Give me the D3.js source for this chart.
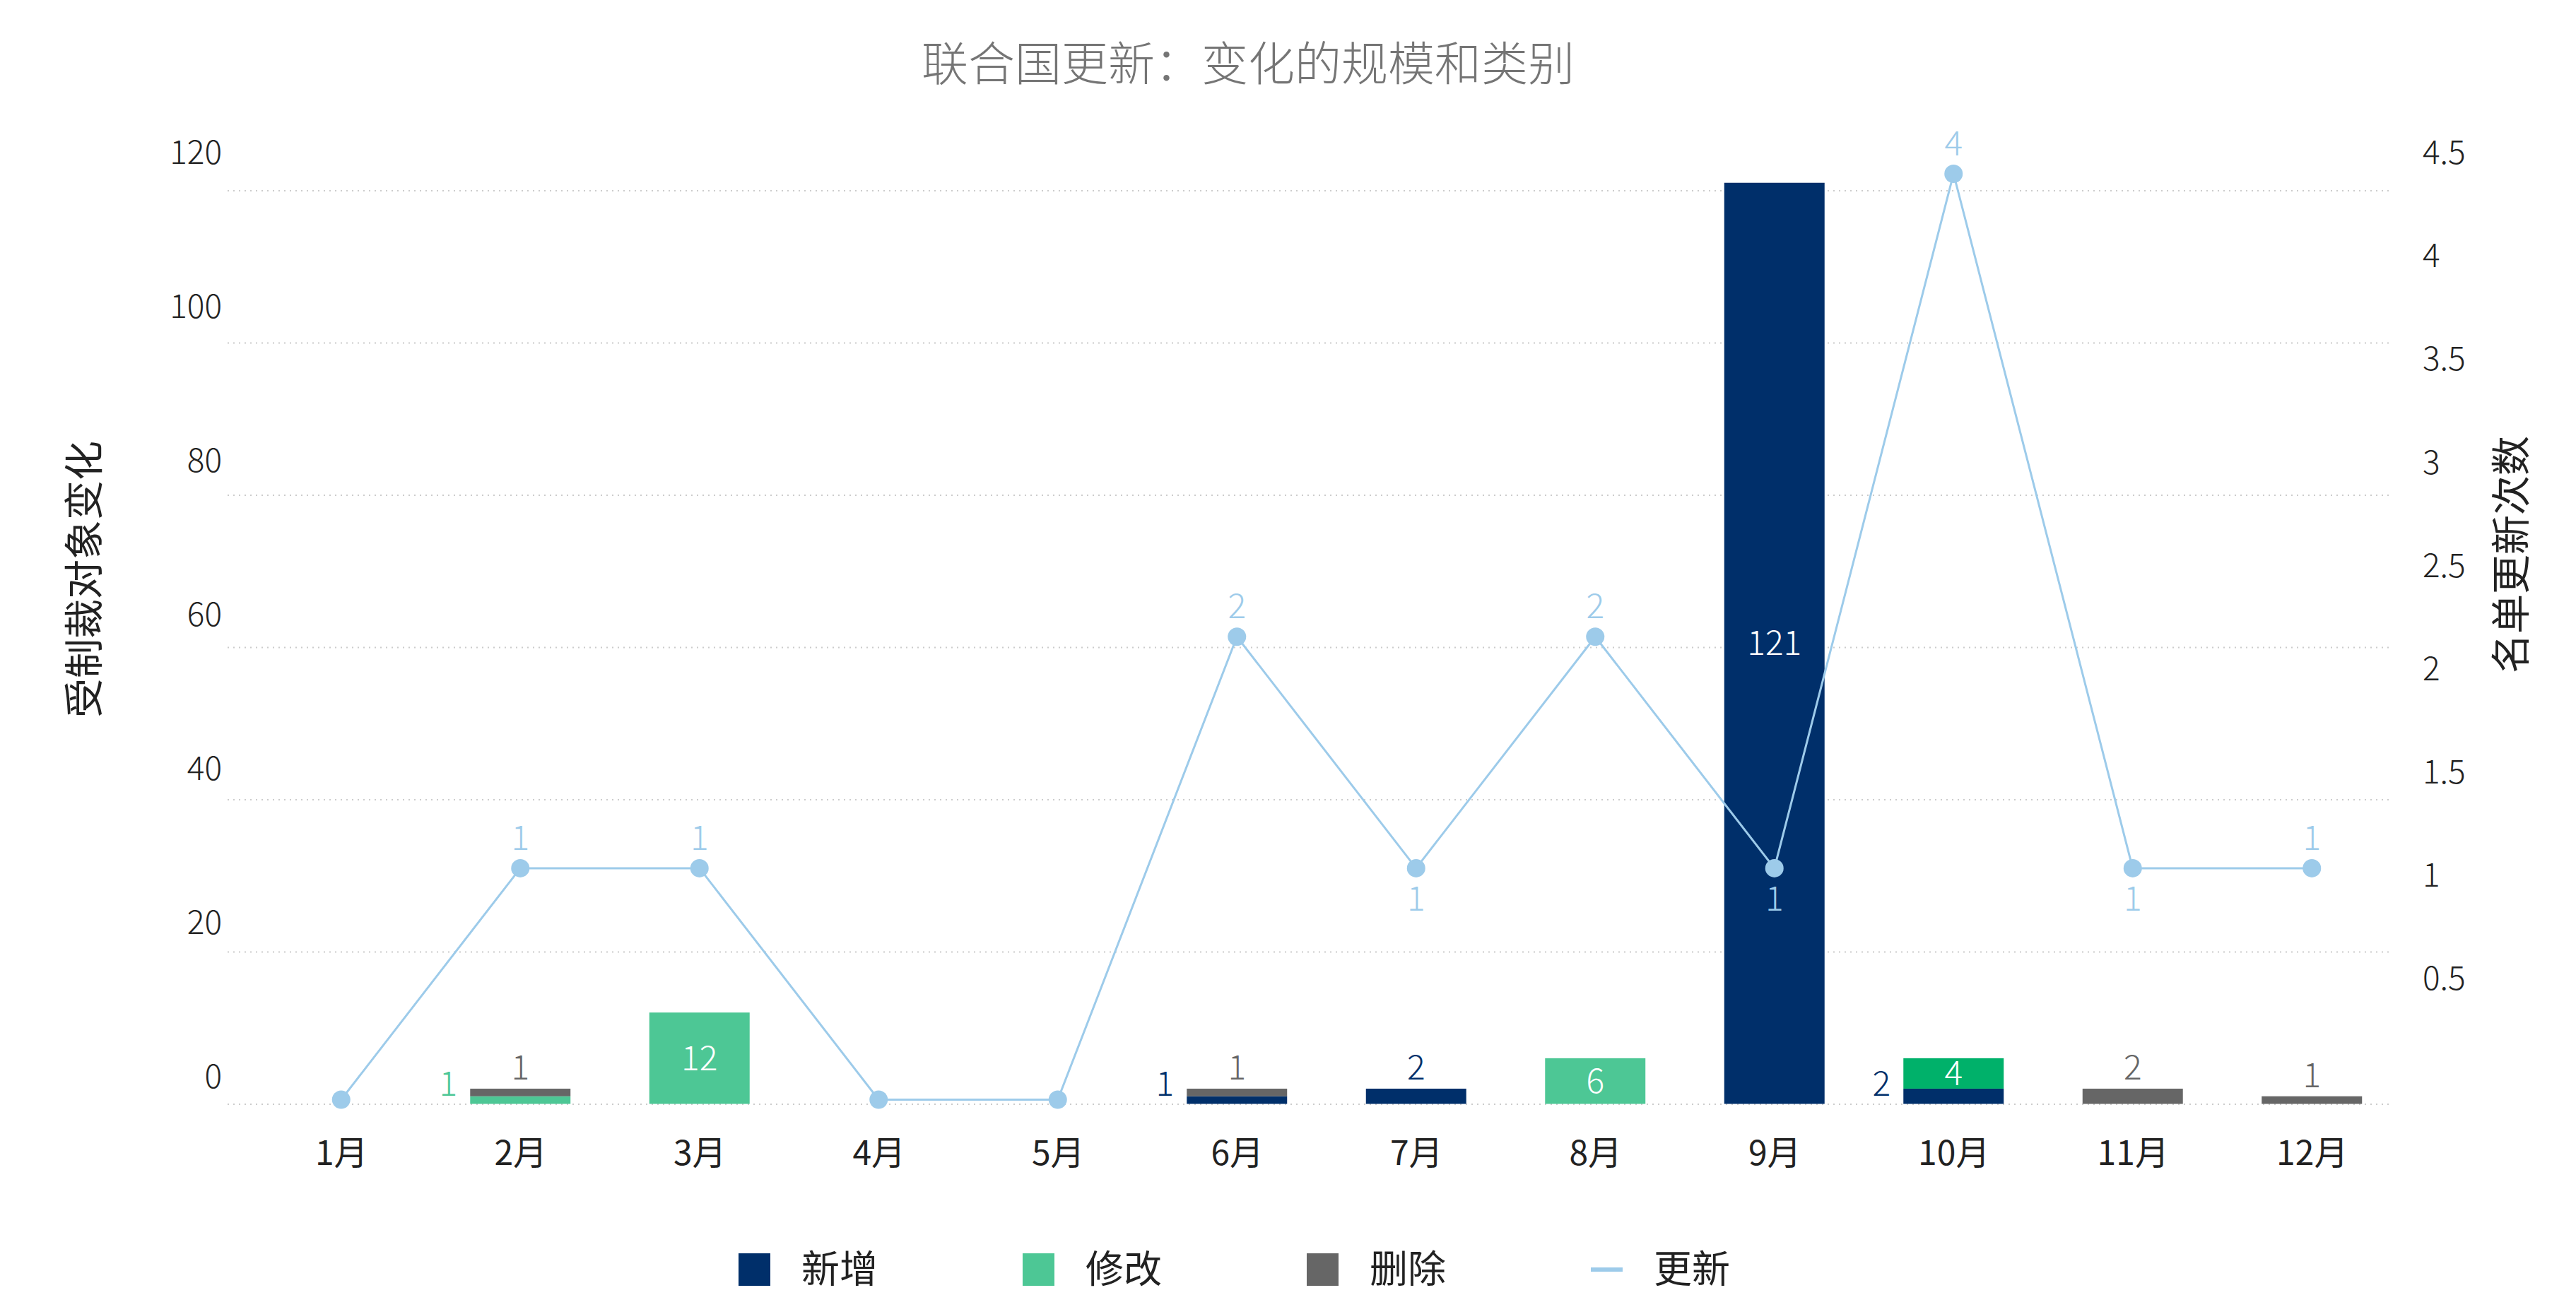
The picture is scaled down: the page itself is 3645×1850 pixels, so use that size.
<!DOCTYPE html>
<html>
<head>
<meta charset="utf-8">
<script src="https://cdn.jsdelivr.net/npm/d3@7"></script>
<style>
  body { margin: 0; background: #fff; }
  svg text { font-family: "Noto Sans CJK SC", "Noto Sans", sans-serif; }
</style>
</head>
<body>
<svg id="chart" width="3645" height="1850"></svg>
<script>
// Monthly UN list changes (bars, left axis) and number of list updates (line, right axis)
var months = ['1月', '2月', '3月', '4月', '5月', '6月', '7月', '8月', '9月', '10月', '11月', '12月'];
var added = [0, 0, 0, 0, 0, 1, 2, 0, 121, 2, 0, 0];
var modified = [0, 1, 12, 0, 0, 0, 0, 6, 0, 4, 0, 0];
var removed = [0, 1, 0, 0, 0, 1, 0, 0, 0, 0, 2, 1];
var updates = [0, 1, 1, 0, 0, 2, 1, 2, 1, 4, 1, 1];
var leftTicks = [0, 20, 40, 60, 80, 100, 120];
var rightTicks = [0.5, 1, 1.5, 2, 2.5, 3, 3.5, 4, 4.5];

var title = '联合国更新：变化的规模和类别';
var leftTitle = '受制裁对象变化';
var rightTitle = '名单更新次数';

var series = [
  {key: 'added', name: '新增', color: '#002f6a'},
  {key: 'modified', name: '修改', color: '#4dc795'},
  {key: 'removed', name: '删除', color: '#666666'}
];
var lineName = '更新';
var lineColor = '#9dcbea';
// the 10月 修改 segment is drawn in a stronger green in the original
var highlightMonth = '10月';
var highlightColor = '#00b16a';

var svg = d3.select('#chart');

var plotLeft = 322, plotRight = 3380;

var x = d3.scalePoint().domain(months).range([356, 3398]).padding(0.5);
var barW = x.step() * 0.56;

var yL = d3.scaleLinear().domain([0, 120]).range([1562.5, 269.5]);
var yR = d3.scaleLinear().domain([0, 4]).range([1556.5, 246]);
// tick labels sit a little above their gridlines
var yLLabel = d3.scaleLinear().domain([0, 120]).range([1525, 217]);
var yRLabel = d3.scaleLinear().domain([0, 4.5]).range([1532, 217]);

/////////////////////////
// Gridlines
var grid = svg.append('g')
  .attr('transform', 'translate(' + plotLeft + ',0)')
  .call(d3.axisLeft(yL).tickValues(leftTicks).tickSize(-(plotRight - plotLeft)).tickFormat(''));
grid.select('.domain').remove();
grid.selectAll('line')
  .attr('stroke', '#cccccc')
  .attr('stroke-width', 2)
  .attr('stroke-dasharray', '2,6');

/////////////////////////
// Stacked bars
var rows = months.map(function(m, i) {
  return {month: m, added: added[i], modified: modified[i], removed: removed[i]};
});
var stacked = d3.stack().keys(series.map(function(s) { return s.key; }))(rows);

var segColor = function(s, d) {
  if (s.key == 'modified' && d.data.month == highlightMonth) { return highlightColor; }
  return s.color;
};

stacked.forEach(function(layer, li) {
  var s = series[li];
  svg.append('g').selectAll('rect')
    .data(layer.filter(function(d) { return d[1] - d[0] > 0; }))
    .enter()
      .append('rect')
        .attr('x', function(d) { return x(d.data.month) - barW / 2; })
        .attr('y', function(d) { return yL(d[1]); })
        .attr('width', barW)
        .attr('height', function(d) { return yL(d[0]) - yL(d[1]); })
        .attr('fill', function(d) { return segColor(s, d); });
});

/////////////////////////
// Update line
var line = d3.line()
  .x(function(d, i) { return x(months[i]); })
  .y(function(d) { return yR(d); });

svg.append('path')
  .datum(updates)
  .attr('d', line)
  .attr('fill', 'none')
  .attr('stroke', lineColor)
  .attr('stroke-width', 3);

svg.append('g').selectAll('circle')
  .data(updates)
  .enter()
    .append('circle')
      .attr('cx', function(d, i) { return x(months[i]); })
      .attr('cy', function(d) { return yR(d); })
      .attr('r', 13)
      .attr('fill', lineColor);

/////////////////////////
// Bar labels: inside when the segment is tall enough, else above the stack
// (top segment) or to the left of the bar (lower segment).
stacked.forEach(function(layer, li) {
  var s = series[li];
  layer.forEach(function(d, i) {
    var v = d[1] - d[0];
    if (v <= 0) { return; }
    var h = yL(d[0]) - yL(d[1]);
    var cx = x(d.data.month);
    var total = added[i] + modified[i] + removed[i];
    var t = svg.append('text')
      .text(v)
      .attr('font-size', 48)
      .attr('font-weight', 300);
    if (h >= 36) {
      t.attr('x', cx).attr('y', (yL(d[0]) + yL(d[1])) / 2)
        .attr('dy', '0.35em').attr('text-anchor', 'middle').attr('fill', '#fff');
    } else if (d[1] == total) {
      t.attr('x', cx).attr('y', yL(d[1]) - 30)
        .attr('dy', '0.35em').attr('text-anchor', 'middle').attr('fill', s.color);
    } else {
      t.attr('x', cx - barW / 2 - 18).attr('y', yL(d[0]) - 12)
        .attr('text-anchor', 'end').attr('fill', s.color);
    }
  });
});

// Line labels: below the point when the value dropped, else above.
svg.append('g').selectAll('text')
  .data(updates)
  .enter()
    .append('text')
      .text(function(d) { return d > 0 ? d : ''; })
      .attr('x', function(d, i) { return x(months[i]); })
      .attr('y', function(d, i) {
        var below = i > 0 && d < updates[i - 1];
        return yR(d) + (below ? 43 : -43);
      })
      .attr('dy', '0.35em')
      .attr('text-anchor', 'middle')
      .attr('font-size', 48)
      .attr('font-weight', 300)
      .attr('fill', lineColor);

/////////////////////////
// Axes
var xAxis = svg.append('g')
  .attr('transform', 'translate(0,' + yL(0) + ')')
  .call(d3.axisBottom(x).tickSize(0));
xAxis.select('.domain').remove();
xAxis.selectAll('text')
  .attr('y', 70)
  .attr('dy', '0.35em')
  .attr('font-size', 48)
  .attr('fill', '#222')
  .attr('font-family', '"Noto Sans CJK SC", sans-serif');

var leftAxis = svg.append('g')
  .attr('transform', 'translate(314,0)')
  .call(d3.axisLeft(yLLabel).tickValues(leftTicks).tickSize(0).tickPadding(0));
leftAxis.select('.domain').remove();
leftAxis.selectAll('text')
  .attr('font-size', 46)
  .attr('font-weight', 300)
  .attr('fill', '#222')
  .attr('font-family', '"Noto Sans CJK SC", sans-serif');

var rightAxis = svg.append('g')
  .attr('transform', 'translate(3428,0)')
  .call(d3.axisRight(yRLabel).tickValues(rightTicks).tickSize(0).tickPadding(0).tickFormat(d3.format('~g')));
rightAxis.select('.domain').remove();
rightAxis.selectAll('text')
  .attr('font-size', 46)
  .attr('font-weight', 300)
  .attr('fill', '#222')
  .attr('font-family', '"Noto Sans CJK SC", sans-serif');

svg.append('text')
  .text(leftTitle)
  .attr('transform', 'translate(119,820) rotate(-90)')
  .attr('text-anchor', 'middle')
  .attr('dy', '0.35em')
  .attr('font-size', 56)
  .attr('fill', '#222');

svg.append('text')
  .text(rightTitle)
  .attr('transform', 'translate(3553,785) rotate(-90)')
  .attr('text-anchor', 'middle')
  .attr('dy', '0.35em')
  .attr('font-size', 56)
  .attr('fill', '#222');

// Title
svg.append('text')
  .text(title)
  .attr('x', 1766)
  .attr('y', 91)
  .attr('dy', '0.35em')
  .attr('text-anchor', 'middle')
  .attr('font-size', 66)
  .attr('font-weight', 300)
  .attr('fill', '#757575');

/////////////////////////
// Legend
var legendItems = series.map(function(s) { return {name: s.name, color: s.color, type: 'box'}; })
  .concat([{name: lineName, color: lineColor, type: 'line'}]);

var legend = svg.append('g').selectAll('g')
  .data(legendItems)
  .enter()
    .append('g')
      .attr('transform', function(d, i) { return 'translate(' + (1045 + i * 402) + ',1797)'; });

legend.append('rect')
  .attr('x', 0)
  .attr('y', function(d) { return d.type == 'box' ? -23 : -3; })
  .attr('width', 45)
  .attr('height', function(d) { return d.type == 'box' ? 46 : 6; })
  .attr('fill', function(d) { return d.color; });

legend.append('text')
  .text(function(d) { return d.name; })
  .attr('x', 89)
  .attr('dy', '0.35em')
  .attr('font-size', 54)
  .attr('fill', '#222');
</script>
</body>
</html>
